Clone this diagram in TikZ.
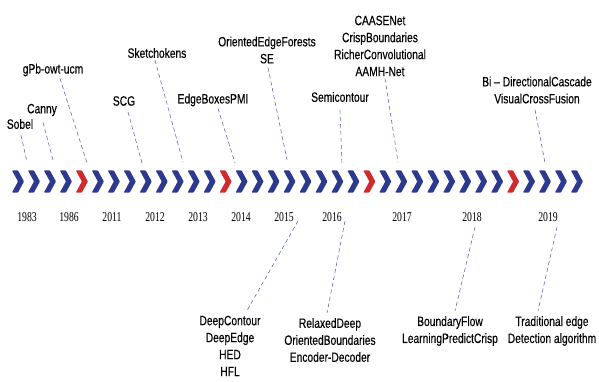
\documentclass[tikz,border=0pt]{standalone}
\usepackage{fontspec}
\setmainfont{Liberation Serif}
\newfontfamily\lblfont[FakeStretch=0.76, FakeBold=0.3]{Liberation Sans}
\newfontfamily\yearfont[FakeStretch=0.72]{Liberation Serif}
\usetikzlibrary{calc}

\definecolor{chevblue}{HTML}{2B3A8F}
\definecolor{chevred}{HTML}{D02A2E}
\definecolor{linkblue}{HTML}{5F68C2}

\begin{document}
\begin{tikzpicture}[x=1pt, y=-1pt,
  lbl/.style={font=\lblfont\fontsize{13.5}{17}\selectfont, align=center, inner sep=2pt},
  yr/.style={font=\yearfont\fontsize{13.5}{15}\selectfont, inner sep=1pt},
  link/.style={linkblue, line width=0.6pt, dash pattern=on 4pt off 3pt}]

\useasboundingbox (0,0) rectangle (599,382);

% --- Define variables with \def ---
\def\numChev{36}
\def\chevGap{15.97}
\def\chevY{181.5}

% --- Row of chevrons, every ninth one red ---
\foreach \i in {1,...,\numChev} {
    \pgfmathsetmacro{\cx}{18 + \chevGap*(\i-1)}
    \pgfmathtruncatemacro{\isRed}{mod(\i-1,9)==4 ? 1 : 0}
    \ifnum\isRed=1 \def\chevcol{chevred}\else\def\chevcol{chevblue}\fi
    \fill[\chevcol, rounded corners=0.6pt]
        (\cx-6, \chevY-11) -- (\cx, \chevY-11) -- (\cx+6, \chevY)
        -- (\cx, \chevY+11) -- (\cx-6, \chevY+11) -- (\cx, \chevY) -- cycle;
}

% --- Years under the chevrons ---
\node[yr] (y1983) at (27,217) {1983};
\node[yr] (y1986) at (69,217) {1986};
\node[yr] (y2011) at (112,217) {2011};
\node[yr] (y2012) at (155,217) {2012};
\node[yr] (y2013) at (198,217) {2013};
\node[yr] (y2014) at (241,217) {2014};
\node[yr] (y2015) at (284,217) {2015};
\node[yr] (y2016) at (332,217) {2016};
\node[yr] (y2017) at (402,217) {2017};
\node[yr] (y2018) at (472,217) {2018};
\node[yr] (y2019) at (548,217) {2019};

% --- Methods above the timeline ---
\node[lbl] (sobel) at (20,124) {Sobel};
\node[lbl] (canny) at (42,110) {Canny};
\node[lbl] (gpb) at (53,70) {gPb-owt-ucm};
\node[lbl] (scg) at (124,101) {SCG};
\node[lbl] (sketch) at (157,53) {Sketchokens};
\node[lbl] (edgebox) at (213,100) {EdgeBoxesPMI};
\node[lbl] (forest) at (267,50) {OrientedEdgeForests\\SE};
\node[lbl] (semi) at (340,97) {Semicontour};
\node[lbl] (caase) at (380,46) {CAASENet\\CrispBoundaries\\RicherConvolutional\\AAMH-Net};
\node[lbl] (bidir) at (537,90) {Bi – DirectionalCascade\\VisualCrossFusion};

% --- Methods below the timeline ---
\node[lbl] (deep) at (230,346) {DeepContour\\DeepEdge\\HED\\HFL};
\node[lbl] (relaxed) at (330,340) {RelaxedDeep\\OrientedBoundaries\\Encoder-Decoder};
\node[lbl] (bflow) at (450,331) {BoundaryFlow\\LearningPredictCrisp};
\node[lbl] (trad) at (552,331) {Traditional edge\\Detection algorithm};

% --- Free ends of the dashed links ---
\coordinate (tSobel) at (27,162);
\coordinate (tCanny) at (53,160);
\coordinate (tGpb) at (87,163);
\coordinate (tScg) at (142,163);
\coordinate (tSketch) at (183,162);
\coordinate (tEdge) at (235,163);
\coordinate (tForest) at (287,160);
\coordinate (tSemi) at (342,165);
\coordinate (tCaase) at (398,162);
\coordinate (tBidir) at (545,163);
\coordinate (b2015) at (298,221);
\coordinate (b2016) at (345,221);
\coordinate (b2018) at (475,227);
\coordinate (b2019) at (557,227);

% --- Dashed links ---
\draw[link] ($(sobel.south)+(1,4)$) -- (tSobel);
\draw[link] ($(canny.south)+(1,4)$) -- (tCanny);
\draw[link] ($(gpb.south)+(7,0)$) -- (tGpb);
\draw[link] ($(scg.south)+(4,4)$) -- (tScg);
\draw[link] ($(sketch.south)+(-2,0)$) -- (tSketch);
\draw[link] ($(edgebox.south)+(5,0)$) -- (tEdge);
\draw[link] ($(forest.south)+(1,2)$) -- (tForest);
\draw[link] ($(semi.south)+(0,6)$) -- (tSemi);
\draw[link] ($(caase.south)+(5,0)$) -- (tCaase);
\draw[link] ($(bidir.south)+(-2,4)$) -- (tBidir);
\draw[link] (b2015) -- ($(deep.north)+(17,-3)$);
\draw[link] (b2016) -- ($(relaxed.north)+(-3,-3)$);
\draw[link] (b2018) -- ($(bflow.north)+(5,-3)$);
\draw[link] (b2019) -- ($(trad.north)+(-14,-3)$);

\end{tikzpicture}
\end{document}
